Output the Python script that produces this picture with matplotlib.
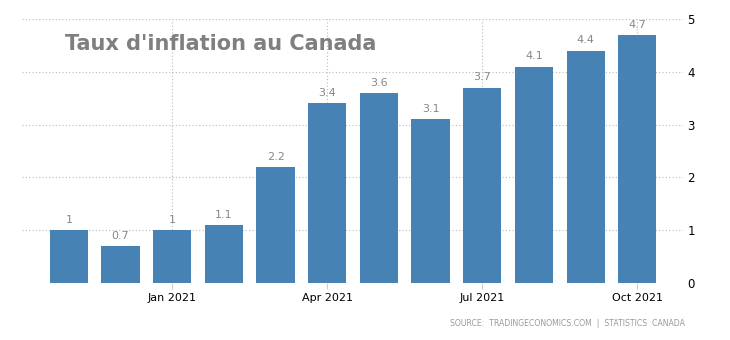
import matplotlib
matplotlib.use("Agg")
import matplotlib.pyplot as plt

months = ["Nov 2020", "Dec 2020", "Jan 2021", "Feb 2021", "Mar 2021", "Apr 2021",
          "May 2021", "Jun 2021", "Jul 2021", "Aug 2021", "Sep 2021", "Oct 2021"]
values = [1, 0.7, 1, 1.1, 2.2, 3.4, 3.6, 3.1, 3.7, 4.1, 4.4, 4.7]
value_labels = ["1", "0.7", "1", "1.1", "2.2", "3.4", "3.6", "3.1", "3.7", "4.1", "4.4", "4.7"]
xtick_labels = ["Jan 2021", "Apr 2021", "Jul 2021", "Oct 2021"]
yticks = [0, 1, 2, 3, 4, 5]

fig = plt.figure(figsize=(7.3, 3.4), dpi=100)
ax = fig.add_axes([0.030, 0.168, 0.906, 0.776])

x = list(range(len(months)))
ax.bar(x, values, width=0.74, color="#4682B4", zorder=3)
for xi, v, lab in zip(x, values, value_labels):
    ax.text(xi, v + 0.1, lab, ha="center", va="bottom", fontsize=8, color="#888888", zorder=4)

ax.set_xlim(-0.91, 11.89)
ax.set_ylim(0, 5)
ax.set_yticks(yticks)
ax.set_yticklabels([str(t) for t in yticks])
ax.yaxis.tick_right()
tick_pos = [months.index(m) for m in xtick_labels]
ax.set_xticks(tick_pos)
ax.set_xticklabels(xtick_labels)
ax.tick_params(axis="y", length=0, pad=3, labelsize=8.5, colors="#000000")
ax.tick_params(axis="x", length=4, color="#cccccc", pad=3, labelsize=8, labelcolor="#000000")
ax.grid(True, linestyle=(0, (1, 2)), color="#bbbbbb", linewidth=0.8, zorder=0)
for s in ax.spines.values():
    s.set_visible(False)

fig.text(65 / 730, 1 - 44 / 340, "Taux d'inflation au Canada", fontsize=15, fontweight="bold",
         color="#7f7f7f", ha="left", va="center")
fig.text(685 / 730, 1 - 324 / 340, "SOURCE:  TRADINGECONOMICS.COM  |  STATISTICS  CANADA",
         fontsize=5.6, color="#999999", ha="right", va="center")

fig.savefig("out.png", dpi=100)
